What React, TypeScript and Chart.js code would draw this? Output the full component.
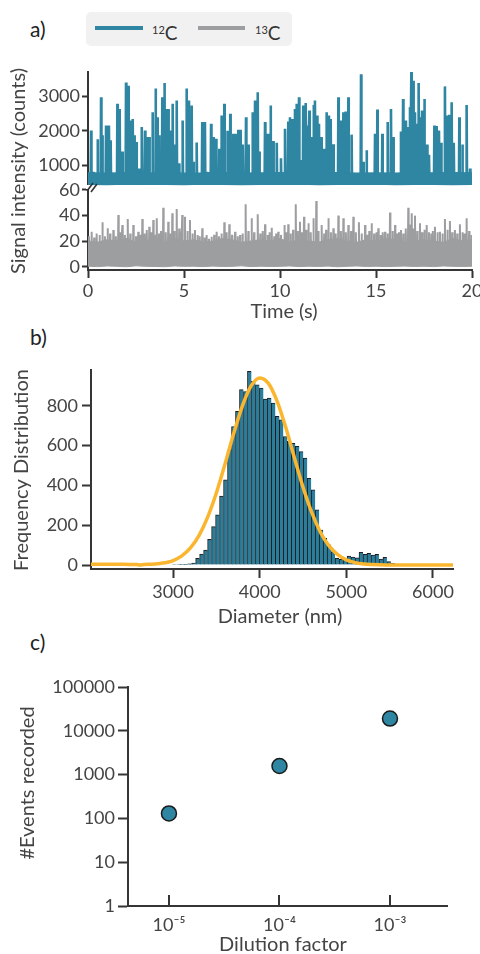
import React, { useEffect, useRef } from 'react';
import { Chart, registerables } from 'chart.js';

Chart.register(...registerables);

const FONT_FAMILY = 'Lato, "Open Sans", "DejaVu Sans", sans-serif';
const TEXT = '#444444';
const AXIS = '#353535';
const BLUE = '#2e86a3';
const BAR_BLUE = '#2b7e9b';
const GRAY = '#9d9ea0';
const ORANGE = '#fbb62f';
const TICK_SIZE = 18;
const TITLE_SIZE = 20;

// ---------- Panel a: time trace ----------
const timeTicks = [0, 5, 10, 15, 20];
const c12Ticks = [1000, 2000, 3000];
const c13Ticks = [0, 20, 40, 60];

const c12BandTimes = [0, 1, 2, 3, 4, 5, 6, 7, 8, 9, 10, 11, 12, 13, 14, 15, 16, 17, 18, 19, 20];
const c12BandHigh = [770, 760, 780, 765, 775, 760, 770, 785, 765, 770, 775, 760, 770, 780, 765, 770, 760, 775, 770, 780, 770];
const c12BandLow = [440, 435, 445, 438, 440, 432, 445, 438, 435, 442, 438, 445, 435, 440, 438, 445, 435, 440, 438, 435, 440];

const c12SpikeTimes = [
  0.16, 0.28, 0.5, 0.68, 0.75, 0.94, 1.09, 1.18, 1.53, 1.65,
  1.79, 1.98, 2.1, 2.22, 2.33, 2.41, 2.53, 2.67, 2.8, 2.97,
  3.09, 3.19, 3.37, 3.52, 3.61, 3.7, 3.87, 3.98, 4.06, 4.18,
  4.29, 4.41, 4.53, 4.62, 4.74, 4.93, 5.14, 5.26, 5.4, 5.5,
  5.66, 5.95, 6.09, 6.2, 6.41, 6.53, 6.67, 6.84, 6.96, 7.1,
  7.26, 7.41, 7.57, 7.69, 7.83, 7.95, 8.06, 8.23, 8.35, 8.57,
  8.7, 8.84, 8.92, 9.22, 9.3, 9.39, 9.51, 9.65, 9.83, 10.05,
  10.26, 10.43, 10.52, 10.64, 10.78, 10.87, 10.99, 11.09, 11.21, 11.34,
  11.44, 11.53, 11.65, 11.75, 11.82, 11.93, 12.03, 12.17, 12.31, 12.43,
  12.55, 12.64, 12.78, 13.04, 13.18, 13.3, 13.42, 13.56, 13.73, 14.22,
  14.34, 14.51, 14.95, 15.07, 15.33, 15.61, 15.78, 15.9, 16.3, 16.41,
  16.56, 16.68, 16.77, 16.84, 16.94, 17.03, 17.11, 17.22, 17.33, 17.4,
  17.52, 17.66, 17.76, 18.04, 18.16, 18.28, 18.39, 18.59, 18.73, 18.82,
  18.94, 19.05, 19.34, 19.5, 19.72, 19.9,
];
const c12SpikeHeights = [
  2014, 800, 1753, 2980, 1870, 2160, 2160, 1725, 2790, 2640,
  1400, 3415, 3318, 2300, 2350, 1870, 1676, 900, 2110, 2014,
  1820, 1820, 2545, 3240, 2400, 1870, 2980, 3396, 2640, 2640,
  2014, 2790, 1600, 2885, 1050, 2300, 3240, 2885, 2740, 1100,
  1660, 2256, 2256, 800, 2207, 1820, 1770, 1480, 2450, 2790,
  2000, 2500, 1918, 1918, 2034, 2034, 1600, 2400, 1600, 2545,
  2885, 3125, 1400, 2256, 1918, 1918, 2740, 1700, 1650, 1200,
  2063, 2275, 2400, 2350, 2640, 2790, 2980, 1150, 2740, 2816,
  2160, 2594, 1820, 2758, 2885, 2450, 2207, 1820, 1480, 2545,
  2450, 2350, 1610, 2980, 2300, 2545, 2565, 2980, 1890, 3655,
  1100, 1435, 1918, 2623, 1918, 2256, 2640, 1820, 1985, 2933,
  2300, 2110, 2690, 3724, 3463, 2545, 2207, 3396, 2400, 2594,
  2933, 1600, 1300, 2160, 2140, 2014, 1650, 3300, 2450, 2470,
  2835, 1650, 2400, 1600, 2758, 900,
];

const c13BandTimes = [
  0, 0.5, 1, 1.5, 2, 2.5, 3, 3.5, 4, 4.5, 5, 5.5, 6, 6.5, 7, 7.5, 8, 8.5, 9, 9.5,
  10, 10.5, 11, 11.5, 12, 12.5, 13, 13.5, 14, 14.5, 15, 15.5, 16, 16.5, 17, 17.5, 18, 18.5, 19, 19.5, 20,
];
const c13BandHigh = [
  20, 19, 21, 20, 22, 19, 20, 21, 19, 22, 20, 21, 19, 20, 22, 21, 19, 20, 21, 20,
  22, 19, 21, 20, 19, 21, 22, 20, 19, 21, 20, 22, 21, 19, 20, 21, 20, 19, 22, 20, 21,
];
const c13BandLow = [
  0.6, 0.3, 0.8, 0.5, 0.2, 0.9, 0.5, 0.4, 0.2, 0.8, 0.5, 0.6, 0.3, 0.7, 0.4, 0.5, 0.9, 0.3, 0.6, 0.4,
  0.5, 0.8, 0.3, 0.6, 0.4, 0.7, 0.2, 0.5, 0.8, 0.4, 0.6, 0.3, 0.5, 0.7, 0.4, 0.6, 0.3, 0.8, 0.5, 0.4, 0.6,
];
const c13SpikeTimes = [
  0.05, 0.19, 0.32, 0.45, 0.6, 0.75, 0.88, 1.02, 1.15, 1.32,
  1.45, 1.58, 1.7, 1.79, 1.92, 2.07, 2.2, 2.36, 2.5, 2.62,
  2.72, 2.83, 2.95, 3.06, 3.19, 3.3, 3.4, 3.5, 3.58, 3.7,
  3.8, 3.92, 4.05, 4.18, 4.28, 4.39, 4.5, 4.62, 4.75, 4.83,
  4.91, 5.05, 5.18, 5.31, 5.44, 5.57, 5.7, 5.82, 5.95, 6.07,
  6.18, 6.3, 6.44, 6.57, 6.7, 6.82, 6.95, 7.1, 7.22, 7.36,
  7.5, 7.66, 7.8, 7.92, 8.05, 8.21, 8.35, 8.52, 8.65, 8.84,
  8.97, 9.1, 9.22, 9.35, 9.45, 9.57, 9.7, 9.8, 9.91, 10.05,
  10.23, 10.33, 10.43, 10.55, 10.68, 10.82, 10.93, 11.04, 11.15, 11.25,
  11.36, 11.48, 11.6, 11.74, 11.89, 12.0, 12.17, 12.3, 12.4, 12.52,
  12.65, 12.78, 12.9, 13.04, 13.17, 13.3, 13.43, 13.56, 13.7, 13.82,
  13.95, 14.11, 14.25, 14.43, 14.55, 14.65, 14.77, 14.9, 15.02, 15.12,
  15.25, 15.35, 15.47, 15.6, 15.73, 15.86, 15.99, 16.1, 16.2, 16.3,
  16.42, 16.55, 16.68, 16.77, 16.86, 16.95, 17.03, 17.15, 17.29, 17.4,
  17.52, 17.64, 17.76, 17.88, 17.96, 18.07, 18.2, 18.33, 18.46, 18.59,
  18.72, 18.85, 18.97, 19.11, 19.23, 19.37, 19.5, 19.6, 19.72, 19.85,
  19.98,
];
const c13SpikeHeights = [
  24, 27.5, 23, 26, 25, 34.8, 24, 30.1, 26, 28.8,
  24, 40.5, 27, 32.7, 25, 37.3, 26, 32.7, 24, 27.5,
  25, 37.3, 26, 28.8, 31.4, 27, 36.6, 25, 37.9, 26,
  28, 46.2, 27, 35.3, 26, 41.8, 28, 45.2, 30, 27,
  40.5, 39.2, 28, 36.6, 26, 28.8, 25, 24, 30.1, 23,
  24.9, 22, 23.6, 25, 27.5, 24, 26, 34.8, 27, 33.2,
  25, 27.5, 24, 24.9, 26, 48.8, 28, 37.9, 27, 41.1,
  26, 28, 33.2, 25, 27, 30.6, 24, 26, 27.5, 25,
  32.7, 27, 33.2, 26, 29, 48.8, 28, 35.3, 27, 39.2,
  29, 34, 27, 37.9, 51.4, 28, 32.7, 26, 29, 37.9,
  27, 30.1, 26, 40, 28, 37.9, 27, 32.7, 28, 39.2,
  27, 34.8, 26, 32.7, 25, 28, 34, 26, 27, 30.1,
  25, 27, 27.5, 26, 42.4, 28, 32.7, 26, 27, 28.8,
  26, 30, 46.2, 33, 41.8, 30, 40, 28, 34, 27,
  29, 32.7, 27, 26, 28, 31.4, 27, 27.5, 26, 37.3,
  29, 35.8, 27, 28.8, 26, 33.2, 27, 26, 37.9, 28,
  24.9,
];

// ---------- Panel b: size histogram ----------
const diameterTicks = [3000, 4000, 5000, 6000];
const freqTicks = [0, 200, 400, 600, 800];
const histStart = 2984; // left edge of first bin (nm)
const histBin = 46; // bin width (nm)
const histCounts = [
  2, 2, 3, 4, 6, 10, 33, 55, 75, 129,
  193, 252, 347, 428, 579, 696, 772, 881, 872, 973,
  923, 906, 889, 834, 839, 814, 747, 730, 646, 621,
  612, 596, 570, 537, 436, 378, 277, 176, 134, 101,
  67, 34, 29, 34, 45, 40, 36, 64, 54, 59,
  50, 54, 30, 39, 17, 8, 5, 4, 3, 3,
  2, 2, 1, 1, 1,
];
const fitDiameters = [
  2050, 2200, 2350, 2500, 2580, 2620, 2660, 2750, 2850, 2950,
  3000, 3100, 3200, 3300, 3400, 3500, 3600, 3700, 3800, 3900,
  4000, 4100, 4200, 4300, 4400, 4500, 4600, 4700, 4800, 4900,
  5000, 5100, 5200, 5300, 5450, 5700, 6000, 6231,
];
const fitValues = [
  4, 4, 4, 3, 3, 0, 3, 4, 8, 15,
  22, 46, 86, 149, 242, 363, 509, 662, 800, 900,
  940, 913, 824, 692, 539, 391, 264, 165, 96, 52,
  26, 12, 5, 2, 0, 0, 0, 0,
];

// ---------- Panel c: events vs dilution ----------
const dilutionFactors = [1e-5, 1e-4, 1e-3];
const dilutionLabels = ['10\u207B\u2075', '10\u207B\u2074', '10\u207B\u00B3'];
const eventsRecorded = [130, 1570, 19000];
const eventTicks = [1, 10, 100, 1000, 10000, 100000];

const tickFont = { family: FONT_FAMILY, size: TICK_SIZE };
const plainNumber = (v: any) => String(Math.round(Number(v)));

function spikeSeries(times: number[], heights: number[], base: number, d: number) {
  const pts: { x: number; y: number }[] = [];
  times.forEach((t, i) => {
    pts.push({ x: t - d, y: base });
    pts.push({ x: t, y: heights[i] });
    pts.push({ x: t + d, y: base });
  });
  return pts;
}

function zipXY(xs: number[], ys: number[]) {
  return xs.map((x, i) => ({ x, y: ys[i] }));
}

function titlesPlugin(items: { text: string; x: number; y: number; rot?: boolean }[]) {
  return {
    id: 'axisTitles',
    afterDraw(chart: any) {
      const ctx = chart.ctx;
      ctx.save();
      ctx.fillStyle = TEXT;
      ctx.font = `${TITLE_SIZE}px ${FONT_FAMILY}`;
      ctx.textAlign = 'center';
      ctx.textBaseline = 'middle';
      items.forEach((it) => {
        ctx.save();
        ctx.translate(it.x, it.y);
        if (it.rot) ctx.rotate(-Math.PI / 2);
        ctx.fillText(it.text, 0, 0);
        ctx.restore();
      });
      ctx.restore();
    },
  };
}

const breakPlugin = {
  id: 'axisBreak',
  afterDraw(chart: any) {
    const ctx = chart.ctx;
    const left = chart.chartArea.left;
    const yb = chart.scales.y.bottom;
    ctx.save();
    ctx.fillStyle = '#ffffff';
    ctx.fillRect(left - 2, yb - 2, 5, 4);
    ctx.strokeStyle = AXIS;
    ctx.lineWidth = 1.6;
    ctx.beginPath();
    ctx.moveTo(left - 1, yb + 4);
    ctx.lineTo(left + 5, yb - 4);
    ctx.moveTo(left + 3, yb + 5);
    ctx.lineTo(left + 9, yb - 3);
    ctx.stroke();
    ctx.restore();
  },
};

const inwardTicksPlugin = {
  id: 'inwardTicks',
  afterDraw(chart: any) {
    const ctx = chart.ctx;
    const xs = chart.scales.x;
    const bottom = chart.chartArea.bottom;
    ctx.save();
    ctx.strokeStyle = AXIS;
    ctx.lineWidth = 2;
    dilutionFactors.forEach((v) => {
      const px = Math.round(xs.getPixelForValue(v));
      ctx.beginPath();
      ctx.moveTo(px, bottom);
      ctx.lineTo(px, bottom - 11);
      ctx.stroke();
    });
    ctx.restore();
  },
};

function axisBase(ticks: number[], tickLength: number, padding: number) {
  return {
    afterBuildTicks: (s: any) => {
      s.ticks = ticks.map((v) => ({ value: v }));
    },
    border: { display: true, color: AXIS, width: 2 },
    grid: {
      display: true,
      drawOnChartArea: false,
      drawTicks: true,
      tickLength,
      tickColor: AXIS,
      tickWidth: 2,
      offset: false,
    },
    ticks: { font: tickFont, color: TEXT, padding, autoSkip: false, maxRotation: 0, callback: plainNumber },
  };
}

function makeChartA(canvas: HTMLCanvasElement) {
  const lineBase = { pointRadius: 0, tension: 0, borderJoinStyle: 'bevel', spanGaps: true };
  return new Chart(canvas, {
    type: 'line',
    data: {
      datasets: [
        { ...lineBase, label: '12C high', data: zipXY(c12BandTimes, c12BandHigh), borderColor: BLUE, backgroundColor: BLUE, borderWidth: 1.5, fill: '+1', yAxisID: 'y' },
        { ...lineBase, label: '12C low', data: zipXY(c12BandTimes, c12BandLow), borderColor: BLUE, backgroundColor: BLUE, borderWidth: 1.5, fill: false, yAxisID: 'y' },
        { ...lineBase, label: '12C', data: spikeSeries(c12SpikeTimes, c12SpikeHeights, 600, 0.02), borderColor: BLUE, borderWidth: 2.6, fill: false, yAxisID: 'y' },
        { ...lineBase, label: '13C high', data: zipXY(c13BandTimes, c13BandHigh), borderColor: GRAY, backgroundColor: GRAY, borderWidth: 1.5, fill: '+1', yAxisID: 'y2' },
        { ...lineBase, label: '13C low', data: zipXY(c13BandTimes, c13BandLow), borderColor: GRAY, backgroundColor: GRAY, borderWidth: 1, fill: false, yAxisID: 'y2' },
        { ...lineBase, label: '13C', data: spikeSeries(c13SpikeTimes, c13SpikeHeights, 10, 0.02), borderColor: GRAY, borderWidth: 2, fill: false, yAxisID: 'y2' },
      ],
    },
    options: {
      animation: false,
      responsive: false,
      maintainAspectRatio: false,
      events: [],
      layout: { padding: { top: 22, right: 18, left: 0, bottom: 0 } },
      plugins: { legend: { display: false }, tooltip: { enabled: false } },
      scales: {
        x: {
          type: 'linear',
          min: 0,
          max: 20,
          ...axisBase(timeTicks, 8, 2),
          afterFit: (s: any) => { s.height = 60; },
        },
        y: {
          type: 'linear',
          position: 'left',
          stack: 'signal',
          stackWeight: 115,
          weight: 1,
          min: 360,
          max: 3720,
          ...axisBase(c12Ticks, 6, 2),
          afterFit: (s: any) => { s.width = 88; },
        },
        y2: {
          type: 'linear',
          position: 'left',
          stack: 'signal',
          stackWeight: 83,
          weight: 0,
          min: -2.34,
          max: 62.3,
          ...axisBase(c13Ticks, 6, 2),
          afterFit: (s: any) => { s.width = 88; },
        },
      },
    },
    plugins: [
      breakPlugin,
      titlesPlugin([
        { text: 'Signal intensity (counts)', x: 19, y: 121, rot: true },
        { text: 'Time (s)', x: 284, y: 262 },
      ]),
    ],
  } as any);
}

function makeChartB(canvas: HTMLCanvasElement) {
  const histPts = histCounts.map((c, i) => ({ x: histStart + histBin * (i + 0.5), y: c }));
  return new Chart(canvas, {
    type: 'bar',
    data: {
      datasets: [
        {
          type: 'line',
          label: 'Fit',
          data: zipXY(fitDiameters, fitValues),
          borderColor: ORANGE,
          borderWidth: 3.5,
          pointRadius: 0,
          cubicInterpolationMode: 'monotone',
          fill: false,
          order: 0,
        },
        {
          type: 'bar',
          label: 'Frequency',
          data: histPts,
          backgroundColor: BAR_BLUE,
          borderColor: '#1e1e1e',
          borderWidth: { top: 1, left: 1, right: 0, bottom: 0 },
          borderSkipped: false,
          barPercentage: 1,
          categoryPercentage: 1,
          order: 1,
        },
      ],
    },
    options: {
      animation: false,
      responsive: false,
      maintainAspectRatio: false,
      events: [],
      layout: { padding: { top: 40, right: 27, left: 0, bottom: 0 } },
      plugins: { legend: { display: false }, tooltip: { enabled: false } },
      scales: {
        x: {
          type: 'linear',
          min: 2052,
          max: 6231,
          offset: false,
          ...axisBase(diameterTicks, 9, 3),
          afterFit: (s: any) => { s.height = 61; },
        },
        y: {
          type: 'linear',
          min: -20,
          max: 980,
          ...axisBase(freqTicks, 9, 4),
          afterFit: (s: any) => { s.width = 91; },
        },
      },
    },
    plugins: [
      titlesPlugin([
        { text: 'Frequency Distribution', x: 22, y: 140, rot: true },
        { text: 'Diameter (nm)', x: 280, y: 287 },
      ]),
    ],
  } as any);
}

function makeChartC(canvas: HTMLCanvasElement) {
  return new Chart(canvas, {
    type: 'scatter',
    data: {
      datasets: [
        {
          label: 'Events',
          data: zipXY(dilutionFactors, eventsRecorded),
          backgroundColor: BLUE,
          borderColor: '#1b1b1b',
          pointRadius: 7.5,
          pointBorderWidth: 1.5,
          clip: false,
        },
      ],
    },
    options: {
      animation: false,
      responsive: false,
      maintainAspectRatio: false,
      events: [],
      layout: { padding: { top: 57, right: 33, left: 0, bottom: 0 } },
      plugins: { legend: { display: false }, tooltip: { enabled: false } },
      scales: {
        x: {
          type: 'logarithmic',
          min: 4.26e-6,
          max: 3.28e-3,
          ...axisBase(dilutionFactors, 0, 0),
          grid: { display: false },
          ticks: {
            font: tickFont,
            color: TEXT,
            padding: 0,
            autoSkip: false,
            maxRotation: 0,
            callback: (_v: any, i: number) => dilutionLabels[i],
          },
          afterFit: (s: any) => { s.height = 48; },
        },
        y: {
          type: 'logarithmic',
          min: 1,
          max: 100000,
          ...axisBase(eventTicks, 10, 3),
          afterFit: (s: any) => { s.width = 128; },
        },
      },
    },
    plugins: [
      inwardTicksPlugin,
      titlesPlugin([
        { text: '#Events recorded', x: 28, y: 153, rot: true },
        { text: 'Dilution factor', x: 283, y: 315 },
      ]),
    ],
  } as any);
}

export default function App() {
  const aRef = useRef<HTMLCanvasElement>(null);
  const bRef = useRef<HTMLCanvasElement>(null);
  const cRef = useRef<HTMLCanvasElement>(null);

  useEffect(() => {
    const charts = [
      makeChartA(aRef.current as HTMLCanvasElement),
      makeChartB(bRef.current as HTMLCanvasElement),
      makeChartC(cRef.current as HTMLCanvasElement),
    ];
    return () => charts.forEach((c) => c.destroy());
  }, []);

  const panelLabel = (text: string, top: number) => (
    <div style={{ position: 'absolute', left: 30, top, fontSize: 21, lineHeight: '24px', color: '#222' }}>{text}</div>
  );

  return (
    <div
      style={{
        position: 'fixed',
        left: 0,
        top: 0,
        width: 480,
        height: 954,
        background: '#ffffff',
        overflow: 'hidden',
        fontFamily: FONT_FAMILY,
        color: TEXT,
      }}
    >
      {panelLabel('a)', 17)}
      {panelLabel('b)', 325)}
      {panelLabel('c)', 630)}

      <div style={{ position: 'absolute', left: 86, top: 12, width: 206, height: 34, background: '#f1f1f1', borderRadius: 5 }}>
        <div style={{ position: 'absolute', left: 9, top: 14, width: 48, height: 4, background: BLUE }} />
        <div style={{ position: 'absolute', left: 66, top: 8, fontSize: 19, lineHeight: '20px', color: '#333' }}>
          <sup style={{ fontSize: 11, verticalAlign: '6px' }}>12</sup>C
        </div>
        <div style={{ position: 'absolute', left: 112, top: 14, width: 47, height: 4, background: GRAY }} />
        <div style={{ position: 'absolute', left: 169, top: 8, fontSize: 19, lineHeight: '20px', color: '#333' }}>
          <sup style={{ fontSize: 11, verticalAlign: '6px' }}>13</sup>C
        </div>
      </div>

      <canvas ref={aRef} width={490} height={280} style={{ position: 'absolute', left: 0, top: 50, width: 490, height: 280 }} />
      <canvas ref={bRef} width={480} height={300} style={{ position: 'absolute', left: 0, top: 330, width: 480, height: 300 }} />
      <canvas ref={cRef} width={480} height={324} style={{ position: 'absolute', left: 0, top: 630, width: 480, height: 324 }} />
    </div>
  );
}
